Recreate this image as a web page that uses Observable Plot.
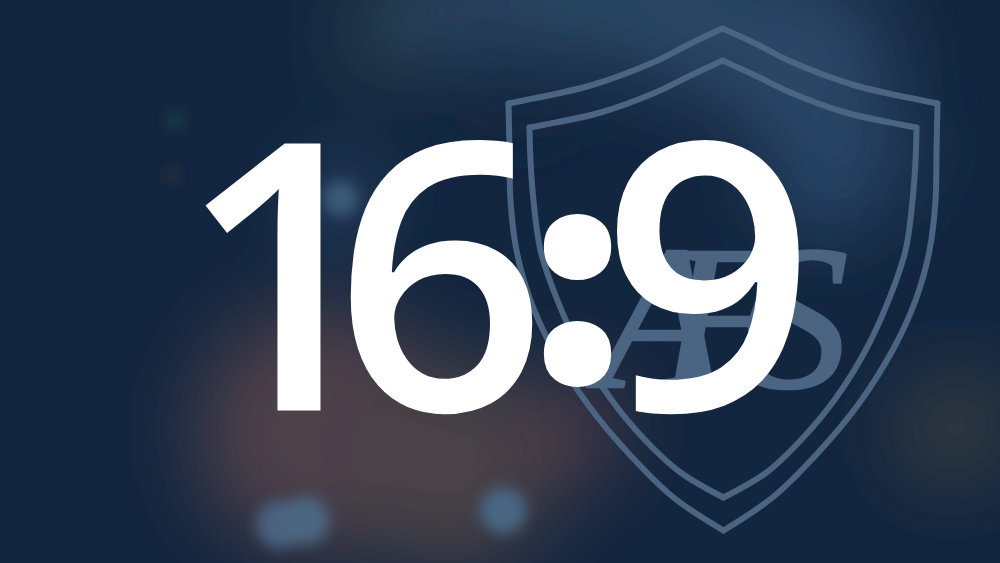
<!DOCTYPE html>
<html><head><meta charset="utf-8">
<script src="https://cdn.jsdelivr.net/npm/d3@7"></script>
<script src="https://cdn.jsdelivr.net/npm/@observablehq/plot@0.6"></script>
<style>html,body{margin:0;padding:0;background:#13263f;overflow:hidden}</style>
</head><body><div id="chart"></div>
<script>
// Text content: "16:9" and the "AFS" monogram, one glyph each
const digitChars = ["1", "6", "9"];
const digitX = [284, 440, 708];
const colonChar = [":"];
const colonX = [577];
const monoChars = ["A", "F", "S"];
const monoX = [660, 722, 797];

// Soft background glows
const glowX = [440, 560, 680, 800, 860, 375, 820, 520, 340, 320, 450, 565, 950, 985];
const glowY = [10, -10, 10, 60, 150, 35, 190, 95, 200, 430, 465, 430, 430, 410];
const glowR = [55, 70, 80, 90, 55, 30, 50, 40, 35, 125, 105, 55, 55, 30];
const glowC = ["#2a4562", "#2a4664", "#2a4766", "#2a4767", "#274363", "#36504f", "#28466a", "#13263f", "#2f4c6c",
               "#4d4148", "#4a4347", "#4c3b47", "#363a40", "#353f3f"];

// Small bokeh spots
const spotX = [280, 305, 503, 175, 172, 340];
const spotY = [524, 520, 510, 120, 175, 198];
const spotR = [24, 24, 23, 9, 6, 18];
const spotC = ["#4a6282", "#4b6680", "#4a6684", "#1f3c4c", "#3b2f3e", "#3a5878"];

// Shield outline, outer and inner, as four segments each
const outerSeg = ["tl","tl","tl","tl","tl","tl", "l","l","l","l","l","l","l","l","l","l", "r","r","r","r","r","r","r","r","r","r", "tr","tr","tr","tr","tr","tr"];
const outerX = [722,690,657,590,523,508, 508,509,510,516,530,553,588,630,673,723, 937,936,935,929,915,892,857,815,772,723, 722,755,788,855,922,937];
const outerY = [28,43,60,85,100,103, 103,150,200,250,300,350,405,455,497,530, 103,150,200,250,300,350,405,455,497,530, 28,43,60,85,100,103];
const innerSeg = ["tl","tl","tl","tl","tl","tl", "l","l","l","l","l","l","l","l","l","l", "r","r","r","r","r","r","r","r","r","r", "tr","tr","tr","tr","tr","tr"];
const innerX = [722,690,655,600,545,529, 529,530,533,540,557,580,610,645,680,723, 916,915,912,905,888,865,835,800,766,723, 722,755,790,845,900,916];
const innerY = [60,75,92,112,124,127, 127,160,200,250,300,350,398,440,472,497, 127,160,200,250,300,350,398,440,472,497, 60,75,92,112,124,127];

const glows = glowX.map((x, i) => ({x, y: glowY[i], r: glowR[i], c: glowC[i]}));
const spots = spotX.map((x, i) => ({x, y: spotY[i], r: spotR[i], c: spotC[i]}));
const outer = outerX.map((x, i) => ({x, y: outerY[i], s: outerSeg[i]}));
const inner = innerX.map((x, i) => ({x, y: innerY[i], s: innerSeg[i]}));
const digits = digitChars.map((t, i) => ({t, x: digitX[i]}));
const colon = colonChar.map((t, i) => ({t, x: colonX[i]}));
const mono = monoChars.map((t, i) => ({t, x: monoX[i]}));

const shieldColor = "#4b6482";

const plot = Plot.plot({
  width: 1000,
  height: 563,
  margin: 0,
  style: {background: "#13263f", overflow: "hidden"},
  x: {domain: [0, 1000], range: [0, 1000], axis: null},
  y: {domain: [0, 563], range: [0, 563], axis: null},
  r: {type: "identity"},
  color: {type: "identity"},
  marks: [
    Plot.dot(glows, {x: "x", y: "y", r: "r", fill: "c"}),
    Plot.dot(spots, {x: "x", y: "y", r: "r", fill: "c"}),
    Plot.line(outer, {x: "x", y: "y", z: "s", stroke: shieldColor, strokeWidth: 6, curve: "catmull-rom", strokeLinecap: "round", strokeLinejoin: "round"}),
    Plot.line(inner, {x: "x", y: "y", z: "s", stroke: shieldColor, strokeWidth: 6, curve: "catmull-rom", strokeLinecap: "round", strokeLinejoin: "round"}),
    Plot.text(mono, {x: "x", y: () => 386, text: "t", fill: shieldColor, stroke: shieldColor, strokeWidth: 2.5, strokeLinejoin: "round", fontSize: 205, fontFamily: "Liberation Serif", fontStyle: "italic", textAnchor: "middle", lineAnchor: "bottom"}),
    Plot.text(digits, {x: "x", y: () => 410, text: "t", fill: "white", fontSize: 374, fontFamily: "Open Sans", fontWeight: 600, textAnchor: "middle", lineAnchor: "bottom"}),
    Plot.text(colon, {x: "x", y: () => 372, text: "t", fill: "white", stroke: "white", strokeWidth: 22, strokeLinejoin: "round", fontSize: 265, fontFamily: "Open Sans", fontWeight: 700, textAnchor: "middle", lineAnchor: "bottom"})
  ]
});

// blur the glow layers
const svg = d3.select(plot);
const defs = svg.insert("defs", ":first-child");
[["blurBig", 40], ["blurSmall", 7]].forEach(([id, s]) => {
  defs.append("filter").attr("id", id).attr("filterUnits", "userSpaceOnUse")
    .attr("x", -200).attr("y", -200).attr("width", 1400).attr("height", 963)
    .append("feGaussianBlur").attr("stdDeviation", s);
});
const dotGroups = svg.selectAll('g[aria-label="dot"]').nodes();
if (dotGroups[0]) dotGroups[0].setAttribute("filter", "url(#blurBig)");
if (dotGroups[1]) dotGroups[1].setAttribute("filter", "url(#blurSmall)");

document.getElementById("chart").appendChild(plot);
</script>
</body></html>
